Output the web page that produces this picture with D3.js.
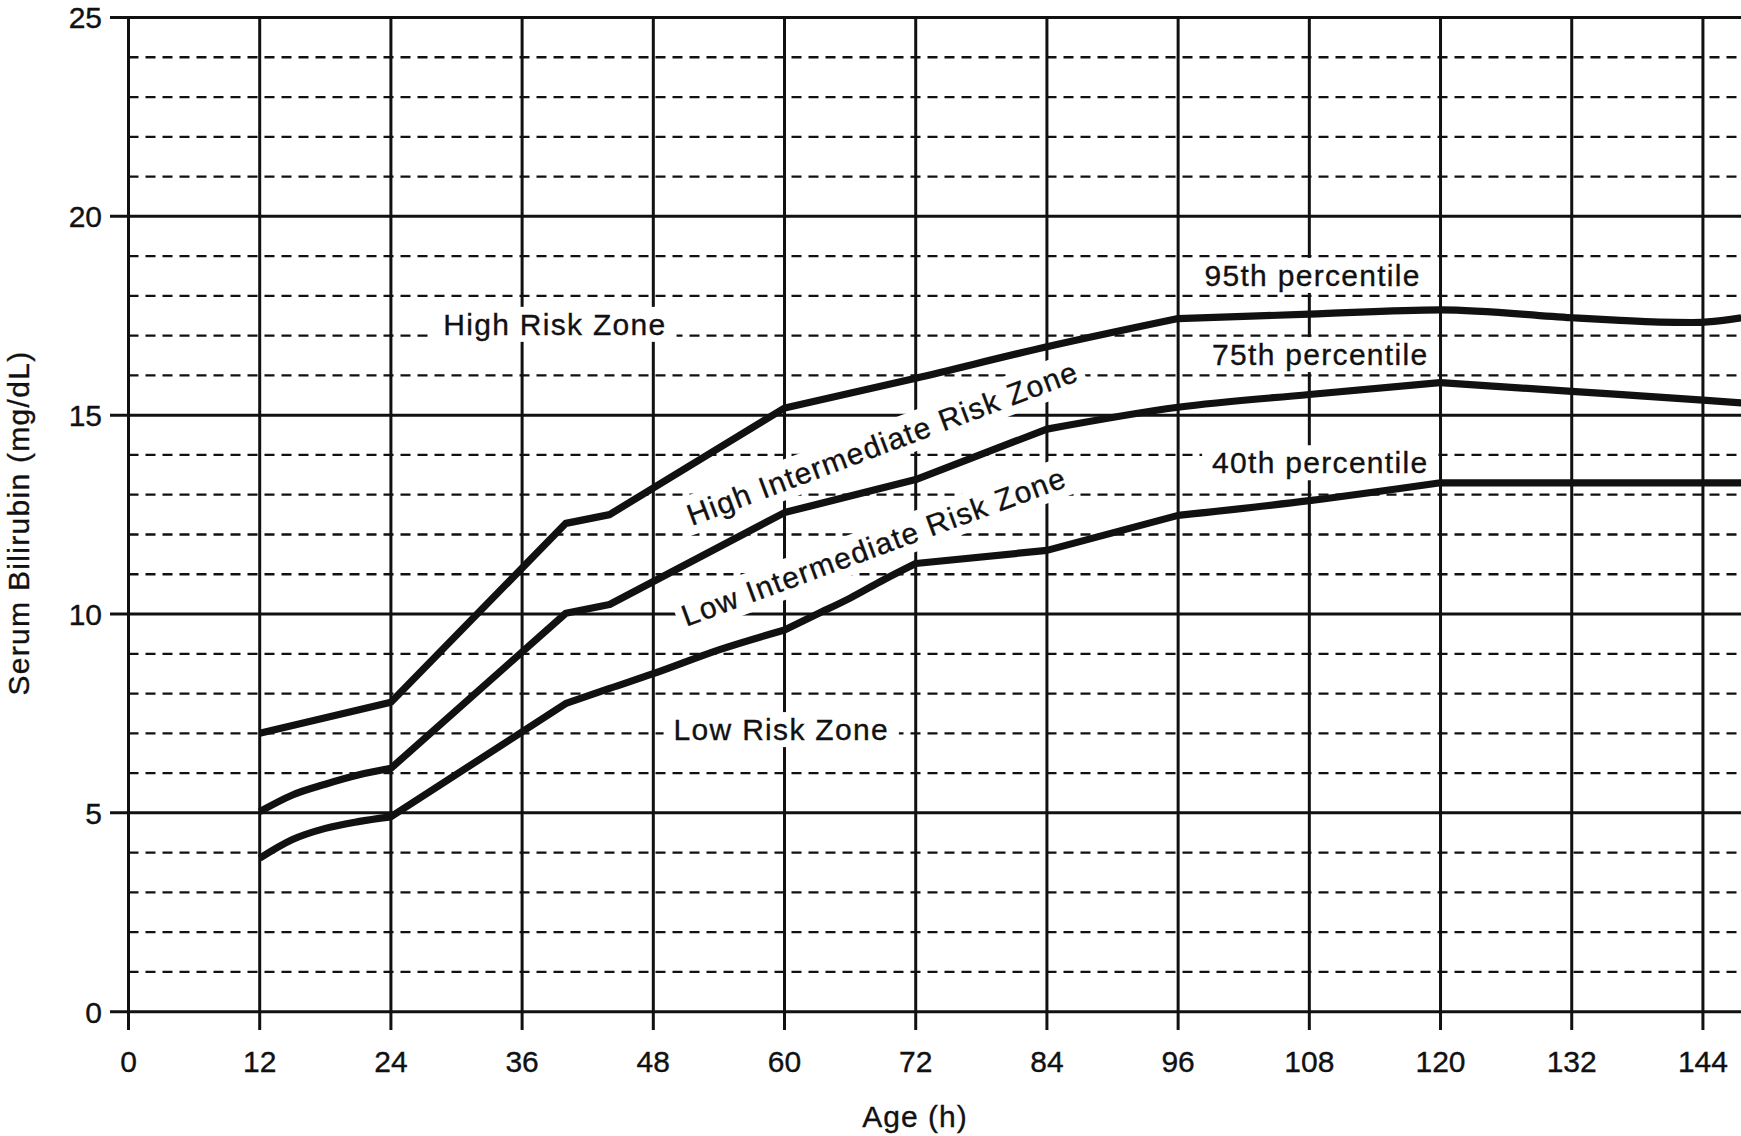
<!DOCTYPE html>
<html>
<head>
<meta charset="utf-8">
<script src="https://cdn.jsdelivr.net/npm/d3@7"></script>
<style>
  html, body { margin: 0; padding: 0; background: #fff; }
  svg { display: block; }
  text { font-family: "Liberation Sans", Arial, Helvetica, sans-serif; fill: #111; stroke: #111; stroke-width: 0.35px; }
</style>
</head>
<body>
<script>
// ---- Data ----
const xTickValues = [0, 12, 24, 36, 48, 60, 72, 84, 96, 108, 120, 132, 144];
const yMajorTicks = [0, 5, 10, 15, 20, 25];
const yMinorTicks = [1,2,3,4,6,7,8,9,11,12,13,14,16,17,18,19,21,22,23,24];

const p95Hours  = [12, 24, 40, 44, 60, 72, 84, 96, 108, 120, 132, 136, 140, 143, 145, 147.5];
const p95Values = [7.0, 7.78, 12.28, 12.5, 15.18, 15.93, 16.72, 17.43, 17.54, 17.65, 17.45, 17.39, 17.34, 17.33, 17.36, 17.45];

const p75Hours  = [12, 15, 18, 21, 24, 40, 44, 60, 72, 84, 96, 108, 120, 132, 144, 147.5];
const p75Values = [5.03, 5.45, 5.72, 5.95, 6.12, 10.02, 10.24, 12.55, 13.38, 14.65, 15.2, 15.52, 15.82, 15.6, 15.38, 15.31];

const p40Hours  = [12, 15, 18, 21, 24, 40, 44, 48, 54, 60, 63, 66, 69, 72, 84, 96, 108, 120, 147.5];
const p40Values = [3.86, 4.33, 4.61, 4.78, 4.9, 7.75, 8.13, 8.5, 9.1, 9.6, 10.0, 10.4, 10.85, 11.27, 11.6, 12.48, 12.85, 13.3, 13.3];

const labelTexts  = ["High Risk Zone", "Low Risk Zone", "95th percentile", "75th percentile", "40th percentile",
                     "High Intermediate Risk Zone", "Low Intermediate Risk Zone"];
const labelHours  = [39.0, 59.7, 108.3, 109.0, 109.0, 69.3, 68.5];
const labelValues = [17.02, 6.83, 18.25, 16.26, 13.54, 14.05, 11.45];
const labelAngles = [0, 0, 0, 0, 0, -20.6, -20.2];

const xTitle = "Age (h)";
const yTitle = "Serum Bilirubin (mg/dL)";

// ---- Layout ----
const W = 1741, H = 1136;
const x = d3.scaleLinear().domain([0, 147.5]).range([128.5, 1741.2]);
const y = d3.scaleLinear().domain([0, 25]).range([1011.7, 17.5]);

const svg = d3.select("body").append("svg").attr("width", W).attr("height", H);
svg.append("rect").attr("width", W).attr("height", H).attr("fill", "#fff");

const grid = svg.append("g");
grid.selectAll("line.minor").data(yMinorTicks).join("line")
  .attr("x1", x(0)).attr("x2", W)
  .attr("y1", d => y(d)).attr("y2", d => y(d))
  .attr("stroke", "#111").attr("stroke-width", 2.3).attr("stroke-dasharray", "10,7");
grid.selectAll("line.major").data(yMajorTicks).join("line")
  .attr("x1", 110).attr("x2", W)
  .attr("y1", d => y(d)).attr("y2", d => y(d))
  .attr("stroke", "#111").attr("stroke-width", 3);
grid.selectAll("line.vert").data(xTickValues).join("line")
  .attr("x1", d => x(d)).attr("x2", d => x(d))
  .attr("y1", y(25) - 1.5).attr("y2", 1030)
  .attr("stroke", "#111").attr("stroke-width", 3);

// tick labels
svg.append("g").selectAll("text").data(xTickValues).join("text")
  .attr("x", d => x(d)).attr("y", 1072)
  .attr("text-anchor", "middle").attr("font-size", 30)
  .text(d => d);
svg.append("g").selectAll("text").data(yMajorTicks).join("text")
  .attr("x", 102).attr("y", d => y(d) + 10.8)
  .attr("text-anchor", "end").attr("font-size", 30)
  .text(d => d);

// axis titles
svg.append("text").attr("x", 915).attr("y", 1127)
  .attr("text-anchor", "middle").attr("font-size", 30).attr("letter-spacing", 1)
  .text(xTitle);
svg.append("text").attr("transform", "translate(28.5,523) rotate(-90)")
  .attr("text-anchor", "middle").attr("font-size", 30).attr("letter-spacing", 1.3)
  .text(yTitle);

// labels with white background
const labelsG = svg.append("g");
labelTexts.forEach((t, i) => {
  const g = labelsG.append("g")
    .attr("transform", `translate(${x(labelHours[i])},${y(labelValues[i])}) rotate(${labelAngles[i]})`);
  const rect = g.append("rect").attr("fill", "#fff");
  const txt = g.append("text").attr("x", 0).attr("y", 0)
    .attr("text-anchor", "middle").attr("font-size", 30).attr("letter-spacing", 1.3)
    .text(t);
  const bb = txt.node().getBBox();
  const padX = labelAngles[i] === 0 ? 10 : 6;
  const padY = labelAngles[i] === 0 ? 1 : 3;
  rect.attr("x", bb.x - padX).attr("y", bb.y - padY)
      .attr("width", bb.width + 2 * padX).attr("height", bb.height + 2 * padY);
});

// percentile curves: smooth through closely-read points, sharp corners elsewhere
function buildPath(hours, values) {
  const pts = hours.map((h, i) => [x(h), y(values[i])]);
  const breaks = [0];
  for (let i = 1; i < pts.length - 1; i++) {
    const a1 = Math.atan2(pts[i][1] - pts[i-1][1], pts[i][0] - pts[i-1][0]);
    const a2 = Math.atan2(pts[i+1][1] - pts[i][1], pts[i+1][0] - pts[i][0]);
    const dense = (hours[i] - hours[i-1]) <= 3.5 && (hours[i+1] - hours[i]) <= 3.5;
    if (Math.abs(a2 - a1) > 0.1 && !dense) breaks.push(i);
  }
  breaks.push(pts.length - 1);
  const gen = d3.line().curve(d3.curveMonotoneX);
  let d = "";
  for (let b = 0; b < breaks.length - 1; b++) {
    const seg = pts.slice(breaks[b], breaks[b+1] + 1);
    let s = gen(seg);
    if (b > 0) s = "L" + s.slice(1);
    d += s;
  }
  return d;
}
const seriesH = [p95Hours, p75Hours, p40Hours];
const seriesV = [p95Values, p75Values, p40Values];
svg.append("g").selectAll("path").data(seriesH.map((h, i) => buildPath(h, seriesV[i]))).join("path")
  .attr("d", d => d)
  .attr("fill", "none").attr("stroke", "#111")
  .attr("stroke-width", 7.2).attr("stroke-linejoin", "round").attr("stroke-linecap", "butt");
</script>
</body>
</html>
